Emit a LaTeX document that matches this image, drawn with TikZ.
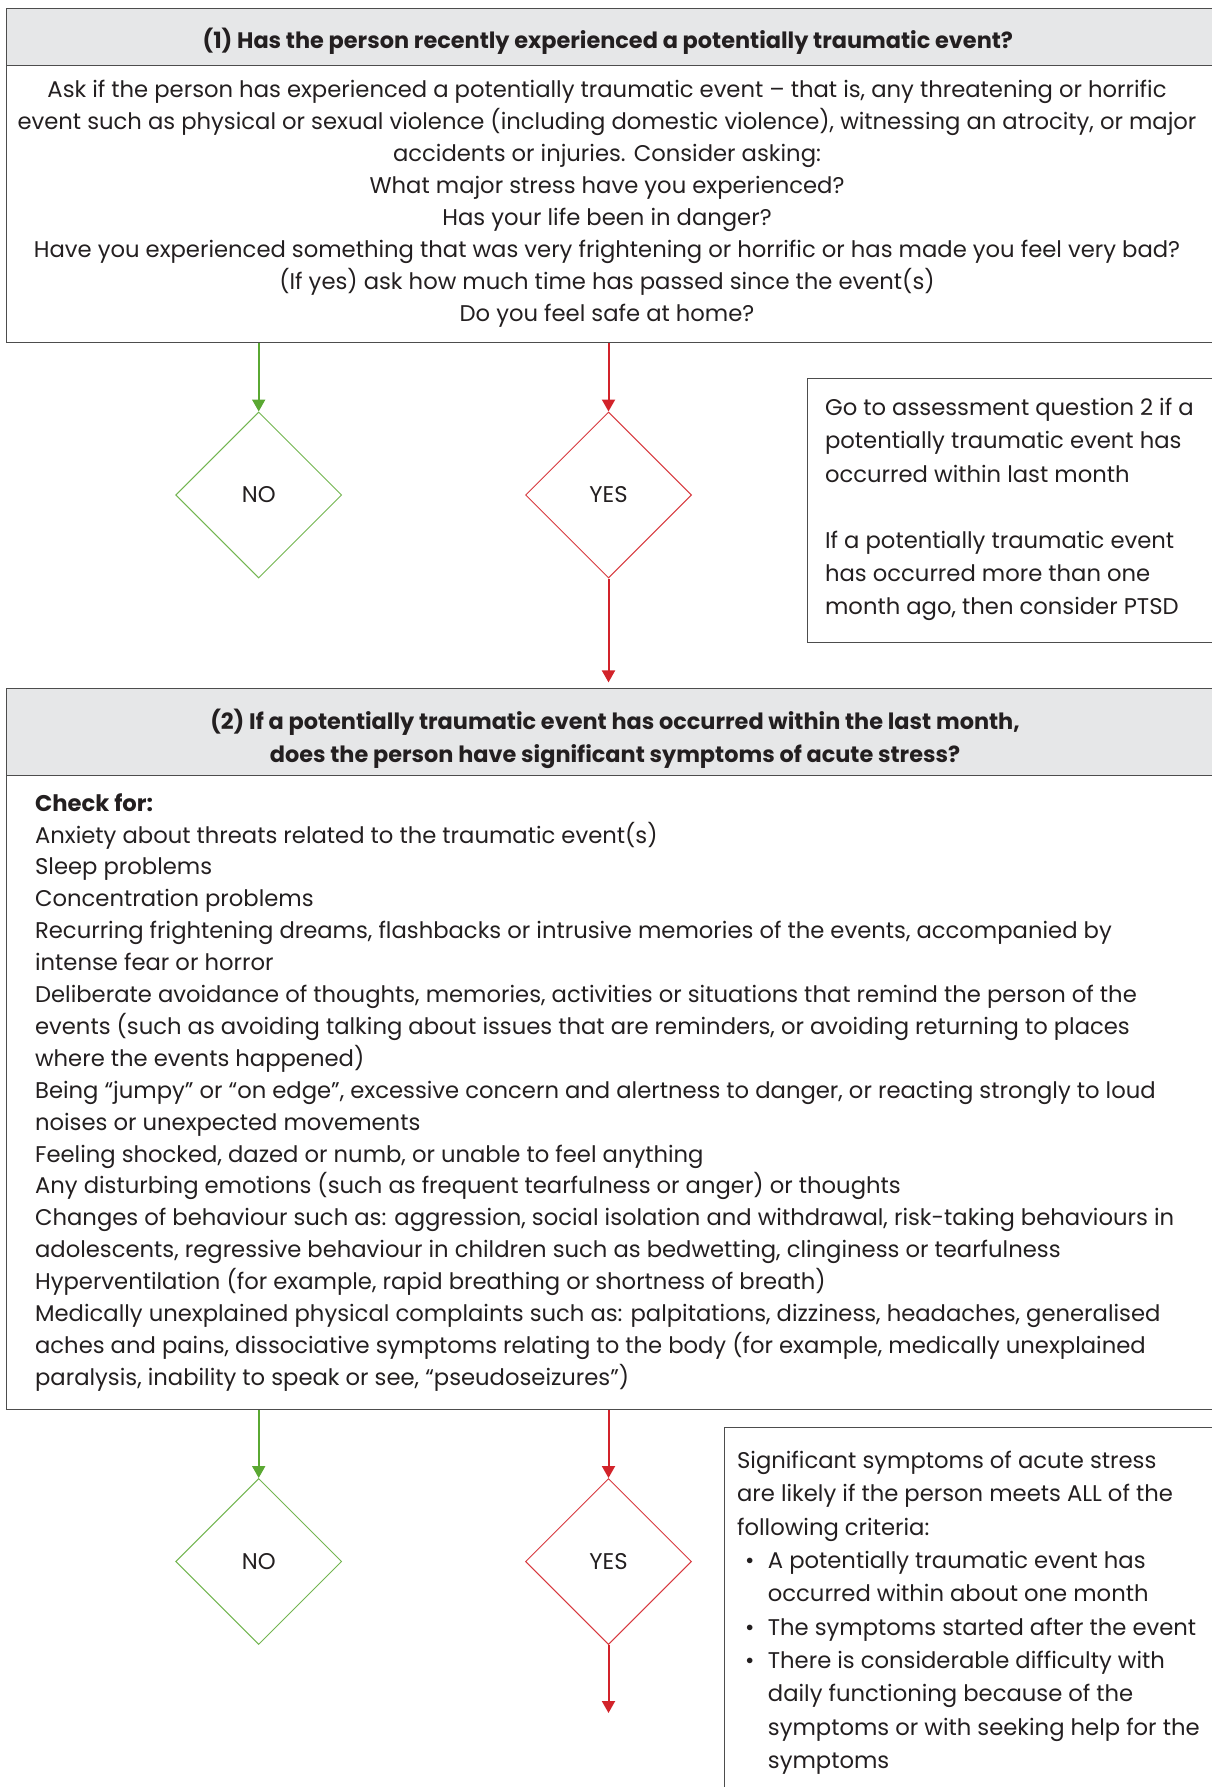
\documentclass[tikz,border=0pt]{standalone}
\usepackage{fontspec}
\setmainfont{Poppins}
\usetikzlibrary{shapes.geometric,arrows.meta}
\definecolor{hdrgray}{HTML}{E6E7E8}
\definecolor{boxline}{HTML}{4D4D4D}
\definecolor{ggreen}{HTML}{5AA832}
\definecolor{rred}{HTML}{D2232A}
\definecolor{txt}{HTML}{231F20}
\newcommand\fs{\rule{0pt}{11pt}}
\newcommand\bul{\makebox[15.4pt][l]{\hspace{4pt}\textbullet}}
\newcommand\ind{\hspace*{15.4pt}}
\begin{document}
\begin{tikzpicture}[x=0.5pt,y=-0.5pt,
  every node/.style={text=txt},
  hdr/.style={draw=boxline,line width=0.7pt,fill=hdrgray,anchor=north west,inner sep=0,minimum width=604pt},
  bodybox/.style={draw=boxline,line width=0.7pt,anchor=north west,inner sep=0,minimum width=604pt},
  sidebox/.style={draw=boxline,line width=0.6pt,anchor=north west,inner sep=0},
  txtc/.style={inner sep=0,anchor=north,align=center},
  txtl/.style={inner sep=0,anchor=north west,align=left},
  gdiam/.style={diamond,aspect=1,minimum width=83pt,minimum height=83pt,inner sep=0,draw=ggreen!85!white,line width=0.5pt,font=\fontsize{11.35}{16}\selectfont},
  rdiam/.style={diamond,aspect=1,minimum width=83pt,minimum height=83pt,inner sep=0,draw=rred!90!white,line width=0.5pt,font=\fontsize{11.35}{16}\selectfont},
  garrow/.style={draw=ggreen,line width=1pt,-{Triangle[width=6.5pt,length=6pt]},fill=ggreen},
  rarrow/.style={draw=rred,line width=1pt,-{Triangle[width=6.5pt,length=6pt]},fill=rred}]
\useasboundingbox (0,0) rectangle (1211,1787);

% ---- Question 1 ----
\node[hdr,minimum height=28.5pt] (h1) at (6,8) {};
\node[bodybox,minimum height=138.5pt] (b1) at (6,65) {};
\node[txtc,font=\fontsize{11.2}{16}\selectfont\bfseries] (h1t) at (607.8,26) {\fs(1) Has the person recently experienced a potentially traumatic event?};
\node[txtc,font=\fontsize{11.35}{16}\selectfont] (b1t) at (607,74.8) {\fs Ask if the person has experienced a potentially traumatic event – that is, any threatening or horrific\\
event such as physical or sexual violence (including domestic violence), witnessing an atrocity, or major\\
accidents or injuries. Consider asking:\\
What major stress have you experienced?\\
Has your life been in danger?\\
Have you experienced something that was very frightening or horrific or has made you feel very bad?\\
(If yes) ask how much time has passed since the event(s)\\
Do you feel safe at home?};

\node[gdiam] (no1) at (258.7,495) {NO};
\node[rdiam] (yes1) at (608.5,495) {YES};

\node[sidebox,minimum width=204pt,minimum height=132pt] (s1) at (807,377.7) {};
\node[txtl,font=\fontsize{11.35}{16.6}\selectfont] (s1t) at (824.7,393.2) {\fs Go to assessment question 2 if a\\
potentially traumatic event has\\
occurred within last month\\
\mbox{}\\
If a potentially traumatic event\\
has occurred more than one\\
month ago, then consider PTSD};

% ---- Question 2 ----
\node[hdr,minimum height=43.5pt] (h2) at (6,688) {};
\node[bodybox,minimum height=317pt] (b2) at (6,775) {};
\node[txtc,font=\fontsize{11.2}{16.5}\selectfont\bfseries] (h2t) at (615,707.2) {\fs(2) If a potentially traumatic event has occurred within the last month,\\
does the person have significant symptoms of acute stress?};
\node[txtl,font=\fontsize{11.35}{15.95}\selectfont] (b2t) at (34.7,788.7) {\fs\textbf{Check for:}\\
Anxiety about threats related to the traumatic event(s)\\
Sleep problems\\
Concentration problems\\
Recurring frightening dreams, flashbacks or intrusive memories of the events, accompanied by\\
intense fear or horror\\
Deliberate avoidance of thoughts, memories, activities or situations that remind the person of the\\
events (such as avoiding talking about issues that are reminders, or avoiding returning to places\\
where the events happened)\\
Being “jumpy” or “on edge”, excessive concern and alertness to danger, or reacting strongly to loud\\
noises or unexpected movements\\
Feeling shocked, dazed or numb, or unable to feel anything\\
Any disturbing emotions (such as frequent tearfulness or anger) or thoughts\\
Changes of behaviour such as: aggression, social isolation and withdrawal, risk-taking behaviours in\\
adolescents, regressive behaviour in children such as bedwetting, clinginess or tearfulness\\
Hyperventilation (for example, rapid breathing or shortness of breath)\\
Medically unexplained physical complaints such as: palpitations, dizziness, headaches, generalised\\
aches and pains, dissociative symptoms relating to the body (for example, medically unexplained\\
paralysis, inability to speak or see, “pseudoseizures”)};

\node[gdiam] (no2) at (258.7,1561.5) {NO};
\node[rdiam] (yes2) at (608.5,1561.5) {YES};

\node[sidebox,minimum width=246pt,minimum height=184pt] (s2) at (723.5,1427) {};
\node[txtl,font=\fontsize{11.35}{16.65}\selectfont] (s2t) at (736.7,1446.2) {\fs Significant symptoms of acute stress\\
are likely if the person meets ALL of the\\
following criteria:\\
\bul A potentially traumatic event has\\
\ind occurred within about one month\\
\bul The symptoms started after the event\\
\bul There is considerable difficulty with\\
\ind daily functioning because of the\\
\ind symptoms or with seeking help for the\\
\ind symptoms};

% ---- connectors ----
\draw[garrow] (b1.south -| no1.north) -- (no1.north);
\draw[rarrow] (b1.south -| yes1.north) -- (yes1.north);
\draw[rarrow,shorten >=2.8pt] (yes1.south) -- (h2.north -| yes1.south);
\draw[garrow] (b2.south -| no2.north) -- (no2.north);
\draw[rarrow] (b2.south -| yes2.north) -- (yes2.north);
\coordinate (end2) at (608.5,1713);
\draw[rarrow] (yes2.south) -- (end2);
\end{tikzpicture}
\end{document}
